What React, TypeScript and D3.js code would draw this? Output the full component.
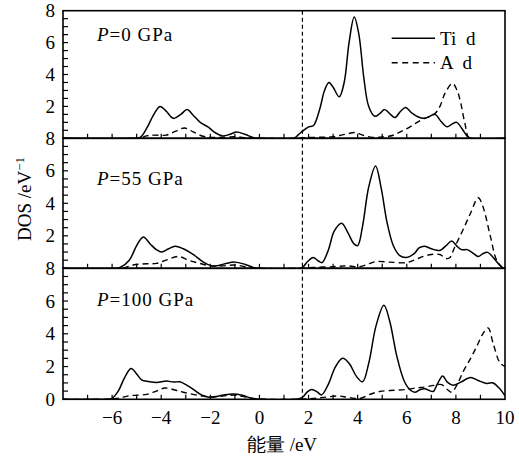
import React from "react";
import * as d3 from "d3";

type Pt = [number, number];

const panelLabels = ["0", "55", "100"];

const ti0: Pt[] = [[-8,0],[-5.2,0],[-4.86,0.05],[-4.6,0.6],[-4.3,1.5],[-4.05,2.0],[-3.8,1.7],[-3.5,1.25],[-3.2,1.5],[-2.95,1.8],[-2.7,1.45],[-2.4,0.98],[-2.1,0.72],[-1.8,0.35],[-1.5,0.15],[-1.2,0.25],[-0.93,0.4],[-0.6,0.25],[-0.2,0.02],[0,0],[1.4,0],[1.6,0.25],[1.8,0.5],[2.0,0.72],[2.2,0.8],[2.45,1.8],[2.65,3.0],[2.83,3.5],[3.0,3.2],[3.25,2.6],[3.45,3.5],[3.65,6.0],[3.86,7.6],[4.05,6.5],[4.25,3.8],[4.45,2.0],[4.7,1.38],[4.9,1.55],[5.1,1.8],[5.3,1.55],[5.52,1.3],[5.75,1.7],[5.95,1.93],[6.2,1.6],[6.45,1.35],[6.7,1.25],[6.9,1.35],[7.15,1.5],[7.4,1.05],[7.65,0.72],[7.85,0.9],[8.03,1.0],[8.25,0.6],[8.45,0.15],[8.6,0],[10,0]];
const a0: Pt[] = [[-8,0],[-4.9,0],[-4.6,0.15],[-4.3,0.2],[-3.8,0.2],[-3.4,0.45],[-3.05,0.65],[-2.7,0.4],[-2.3,0.13],[-1.8,0.05],[-1.0,0.1],[-0.5,0.03],[0,0],[1.5,0],[2.0,0.05],[3.0,0.1],[3.5,0.25],[3.9,0.36],[4.2,0.2],[4.6,0.06],[5.0,0.08],[5.45,0.19],[5.8,0.45],[6.13,0.71],[6.4,0.98],[6.66,1.2],[6.9,1.35],[7.15,1.55],[7.35,2.0],[7.55,2.8],[7.86,3.44],[8.05,3.0],[8.2,2.2],[8.37,0.92],[8.57,0],[10,0]];

const ti55: Pt[] = [[-8,0],[-5.9,0],[-5.68,0.05],[-5.3,0.5],[-5.0,1.4],[-4.73,1.93],[-4.45,1.5],[-4.2,1.15],[-3.98,1.0],[-3.7,1.2],[-3.44,1.36],[-3.1,1.2],[-2.69,0.84],[-2.3,0.4],[-2.0,0.18],[-1.74,0.15],[-1.4,0.28],[-1.0,0.38],[-0.6,0.25],[-0.2,0.03],[0,0],[1.7,0],[1.95,0.4],[2.19,0.67],[2.4,0.45],[2.55,0.35],[2.8,1.1],[3.05,2.3],[3.35,2.77],[3.6,2.2],[3.85,1.5],[4.0,1.4],[4.2,2.6],[4.45,5.0],[4.73,6.29],[4.95,5.0],[5.2,2.8],[5.45,1.4],[5.7,0.8],[5.99,0.67],[6.3,0.9],[6.5,1.25],[6.71,1.36],[7.0,1.2],[7.35,1.1],[7.6,1.4],[7.83,1.68],[8.05,1.35],[8.23,1.15],[8.45,1.15],[8.64,1.0],[8.91,0.73],[9.1,0.9],[9.29,0.98],[9.5,0.7],[9.75,0.25],[9.93,0],[10,0]];
const a55: Pt[] = [[-8,0],[-5.6,0],[-5.15,0.2],[-4.6,0.28],[-4.19,0.3],[-3.8,0.5],[-3.3,0.73],[-2.9,0.5],[-2.42,0.3],[-2.0,0.15],[-1.5,0.15],[-1.0,0.2],[-0.5,0.08],[0,0],[1.7,0],[2.2,0.05],[3.0,0.1],[3.6,0.15],[4.09,0.1],[4.5,0.3],[4.77,0.42],[5.3,0.38],[5.99,0.35],[6.3,0.5],[6.67,0.73],[7.0,0.85],[7.35,0.85],[7.6,0.6],[7.75,0.65],[7.95,1.3],[8.3,2.4],[8.6,3.4],[8.91,4.34],[9.1,3.8],[9.4,2.0],[9.66,0.5],[9.9,0.05],[10,0]];

const ti100: Pt[] = [[-8,0],[-6.63,0],[-6.02,0.05],[-5.75,0.5],[-5.5,1.3],[-5.23,1.88],[-5.0,1.55],[-4.8,1.18],[-4.5,1.08],[-4.19,1.03],[-3.78,1.11],[-3.5,1.05],[-3.24,1.07],[-2.95,0.85],[-2.69,0.6],[-2.4,0.3],[-2.15,0.16],[-1.95,0.12],[-1.5,0.25],[-1.07,0.33],[-0.7,0.25],[-0.3,0.05],[0,0],[1.5,0],[1.74,0.1],[1.95,0.45],[2.13,0.6],[2.35,0.45],[2.53,0.27],[2.8,0.9],[3.1,2.0],[3.39,2.5],[3.65,2.2],[3.95,1.4],[4.2,1.07],[4.45,2.2],[4.75,4.5],[5.07,5.74],[5.3,4.8],[5.6,2.6],[5.9,1.1],[6.15,0.55],[6.33,0.43],[6.55,0.6],[6.74,0.65],[6.9,0.55],[7.08,0.48],[7.25,0.95],[7.46,1.43],[7.65,1.05],[7.89,0.86],[8.2,1.05],[8.6,1.33],[8.9,1.15],[9.25,0.97],[9.52,1.0],[9.75,0.7],[10,0.22]];
const a100: Pt[] = [[-8,0],[-6.3,0],[-5.81,0.05],[-5.27,0.22],[-4.59,0.3],[-4.2,0.5],[-3.85,0.69],[-3.4,0.55],[-3.1,0.43],[-2.42,0.22],[-2.0,0.15],[-1.5,0.2],[-1.0,0.25],[-0.5,0.12],[0,0.02],[1.6,0],[2.5,0.1],[3.2,0.2],[3.6,0.12],[4.09,0.05],[4.5,0.3],[4.9,0.48],[5.5,0.55],[5.99,0.6],[6.4,0.7],[6.74,0.75],[7.1,0.85],[7.42,0.9],[7.65,0.6],[7.83,0.43],[8.05,0.9],[8.3,1.7],[8.6,2.5],[8.84,3.2],[9.1,4.0],[9.31,4.36],[9.52,3.4],[9.79,2.24],[10,2.0]];

const tiSeries = [ti0, ti55, ti100];
const aSeries = [a0, a55, a100];

const xTickLabels = [-6, -4, -2, 0, 2, 4, 6, 8, 10];
const yTickLabels = [8, 6, 4, 2];
const fermiLine = 1.75;
const legendNames = ["Ti d", "A d"];

const W = 519, H = 457;
const left = 63, right = 505;
const bounds = [10.7, 138.3, 268.3, 399.3];
const FONT = "'Liberation Serif', 'Times New Roman', serif";

export default function App() {
  const x = d3.scaleLinear().domain([-8, 10]).range([left, right]);
  const minorX = d3.range(-7, 10, 1);
  const minorY = d3.range(0.5, 8, 0.5);

  return (
    <svg width={W} height={H} style={{ position: "absolute", left: 0, top: 0, background: "#fff" }} fontFamily={FONT}>
      <defs>
        {[0, 1, 2].map((i) => (
          <clipPath id={`clip${i}`} key={i}>
            <rect x={left} y={bounds[i]} width={right - left} height={bounds[i + 1] - bounds[i]} />
          </clipPath>
        ))}
      </defs>
      {[0, 1, 2].map((i) => {
        const top = bounds[i], bot = bounds[i + 1];
        const y = d3.scaleLinear().domain([0, 8]).range([bot, top]);
        const line = d3.line<Pt>().x((d) => x(d[0])).y((d) => y(d[1])).curve(d3.curveCatmullRom.alpha(0.5));
        const labs = i === 2 ? [...yTickLabels, 0] : yTickLabels;
        return (
          <g key={i}>
            <g clipPath={`url(#clip${i})`}>
              <path d={line(aSeries[i]) || ""} fill="none" stroke="#000" strokeWidth={1.4} strokeDasharray="6,4" />
              <path d={line(tiSeries[i]) || ""} fill="none" stroke="#000" strokeWidth={1.5} />
            </g>
            {minorY.map((v) => (
              <line key={`yt${v}`} x1={left} x2={left + 5} y1={y(v)} y2={y(v)} stroke="#000" strokeWidth={1.2} />
            ))}
            {minorX.map((v) => (
              <line key={`xt${v}`} x1={x(v)} x2={x(v)} y1={bot} y2={bot - 4.5} stroke="#000" strokeWidth={1.2} />
            ))}
            {labs.map((v) => (
              <text key={`yl${v}`} x={left - 8} y={y(v)} textAnchor="end" dominantBaseline="central" fontSize={19}>
                {v}
              </text>
            ))}
            <text x={97} y={[41, 185, 306][i]} fontSize={19} letterSpacing={1}>
              <tspan fontStyle="italic">P</tspan>
              <tspan>={panelLabels[i]} GPa</tspan>
            </text>
            <rect x={left} y={top} width={right - left} height={bot - top} fill="none" stroke="#000" strokeWidth={1.6} />
          </g>
        );
      })}
      <line x1={x(fermiLine)} x2={x(fermiLine)} y1={bounds[0]} y2={bounds[3]} stroke="#000" strokeWidth={1.2} strokeDasharray="4,3" />
      {xTickLabels.map((v) => (
        <text key={`xl${v}`} x={x(v)} y={424} textAnchor="middle" fontSize={19}>
          {v < 0 ? `\u2212${Math.abs(v)}` : v}
        </text>
      ))}
      <g>
        <line x1={391.7} x2={435} y1={38.3} y2={38.3} stroke="#000" strokeWidth={1.5} />
        <text x={440} y={38.5} dominantBaseline="central" fontSize={19} wordSpacing={5}>{legendNames[0]}</text>
        <line x1={391.7} x2={435} y1={62.7} y2={62.7} stroke="#000" strokeWidth={1.4} strokeDasharray="6,4.5" />
        <text x={440} y={62.7} dominantBaseline="central" fontSize={19} wordSpacing={5}>{legendNames[1]}</text>
      </g>
      <text transform="translate(31,199) rotate(-90)" textAnchor="middle" fontSize={19}>
        DOS /eV<tspan dy={-7} fontSize={13}>−1</tspan>
      </text>
      <text x={282} y={451} textAnchor="middle" fontSize={19}>
        能量 /eV
      </text>
    </svg>
  );
}
